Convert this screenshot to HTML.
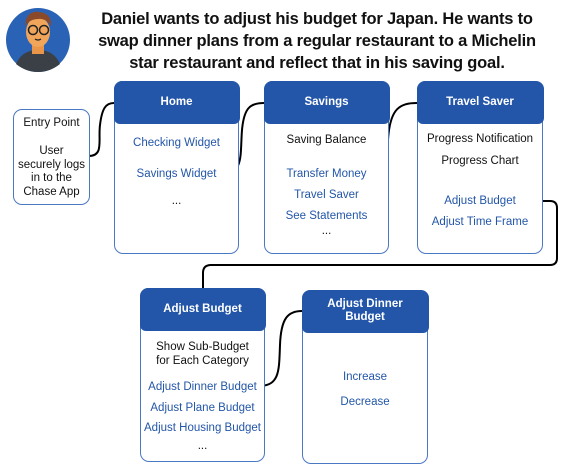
<!DOCTYPE html>
<html><head><style>
body{margin:0;width:563px;height:470px;background:#fff;font-family:"Liberation Sans",sans-serif;position:relative;overflow:hidden}
.t{position:absolute;left:82px;top:8px;width:470px;text-align:center;font-size:16.5px;line-height:22px;color:#111;font-weight:bold;letter-spacing:-0.2px}
.box{position:absolute;border:1.5px solid #4a78c2;border-radius:9px;background:#fff;box-sizing:border-box;text-align:center;font-size:11.5px;color:#111}
.h{background:#2356a8;color:#fff;font-weight:bold;border-radius:8px 8px 6px 6px;margin:-1.5px -1.5px 0 -1.5px;display:flex;align-items:center;justify-content:center;font-size:11.5px;line-height:13px}
.l{position:absolute;left:-4px;right:-4px;text-align:center}
.b{color:#2356a8}
svg{position:absolute;left:0;top:0}
</style></head><body>
<svg width="563" height="470">
<circle cx="38" cy="40" r="32" fill="#2a63b6"/>
<path d="M16 64 Q22 50 38 50 Q54 50 60 64 Q50 72 38 72 Q26 72 16 64Z" fill="#3b3f46"/>
<rect x="32" y="44" width="12" height="10" fill="#e9954a"/>
<ellipse cx="38" cy="32" rx="12" ry="15" fill="#f0a55a"/>
<path d="M25 26 Q26 10 40 12 Q52 14 51 26 Q46 18 38 19 Q30 19 25 26Z" fill="#8a4a2a"/>
<circle cx="33" cy="30" r="4.5" fill="none" stroke="#222" stroke-width="1.5"/>
<circle cx="44" cy="30" r="4.5" fill="none" stroke="#222" stroke-width="1.5"/>
<path d="M35 39 Q38 41 41 39" stroke="#222" fill="none" stroke-width="1.2"/>
<g fill="none" stroke="#000" stroke-width="2">
<path d="M89 156 C104 156 98 140 100 125 C102 108 106 103 114 103"/>
<path d="M222 174 C244 174 240 155 242 130 C244 108 250 103 264 103"/>
<path d="M366 195 C388 195 386 175 388 140 C390 108 400 103 417 103"/>
<path d="M519 201 L550 201 Q557 201 557 208 L557 258 Q557 265 550 265 L211 265 Q203 265 203 273 L203 288"/>
<path d="M259 386 C280 386 279 370 280 345 C281 318 288 311 302 311"/>
</g>
</svg>
<div class="t">Daniel wants to adjust his budget for Japan. He wants to swap dinner plans from a regular restaurant to a Michelin star restaurant and reflect that in his saving goal.</div>

<div class="box" style="left:13px;top:109px;width:77px;height:96px">
<div class="l" style="top:7px">Entry Point</div>
<div class="l" style="top:35px;line-height:13.5px">User<br>securely logs<br>in to the<br>Chase App</div>
</div>

<div class="box" style="left:114px;top:81px;width:125px;height:173px">
<div class="h" style="height:43px">Home</div>
<div class="l b" style="top:55px">Checking Widget</div>
<div class="l b" style="top:86px">Savings Widget</div>
<div class="l" style="top:113px">...</div>
</div>

<div class="box" style="left:264px;top:81px;width:125px;height:173px">
<div class="h" style="height:43px">Savings</div>
<div class="l" style="top:52px">Saving Balance</div>
<div class="l b" style="top:86px">Transfer Money</div>
<div class="l b" style="top:107px">Travel Saver</div>
<div class="l b" style="top:128px">See Statements</div>
<div class="l" style="top:143px">...</div>
</div>

<div class="box" style="left:417px;top:81px;width:126px;height:173px">
<div class="h" style="height:43px">Travel Saver</div>
<div class="l" style="top:51px">Progress Notification</div>
<div class="l" style="top:73px">Progress Chart</div>
<div class="l b" style="top:113px">Adjust Budget</div>
<div class="l b" style="top:134px">Adjust Time Frame</div>
</div>

<div class="box" style="left:140px;top:288px;width:125px;height:174px">
<div class="h" style="height:43px">Adjust Budget</div>
<div class="l" style="top:51px;line-height:14px">Show Sub-Budget<br>for Each Category</div>
<div class="l b" style="top:92px">Adjust Dinner Budget</div>
<div class="l b" style="top:113px">Adjust Plane Budget</div>
<div class="l b" style="top:133px">Adjust Housing Budget</div>
<div class="l" style="top:151px">...</div>
</div>

<div class="box" style="left:302px;top:290px;width:126px;height:174px">
<div class="h" style="height:43px">Adjust Dinner<br>Budget</div>
<div class="l b" style="top:80px">Increase</div>
<div class="l b" style="top:105px">Decrease</div>
</div>
</body></html>
